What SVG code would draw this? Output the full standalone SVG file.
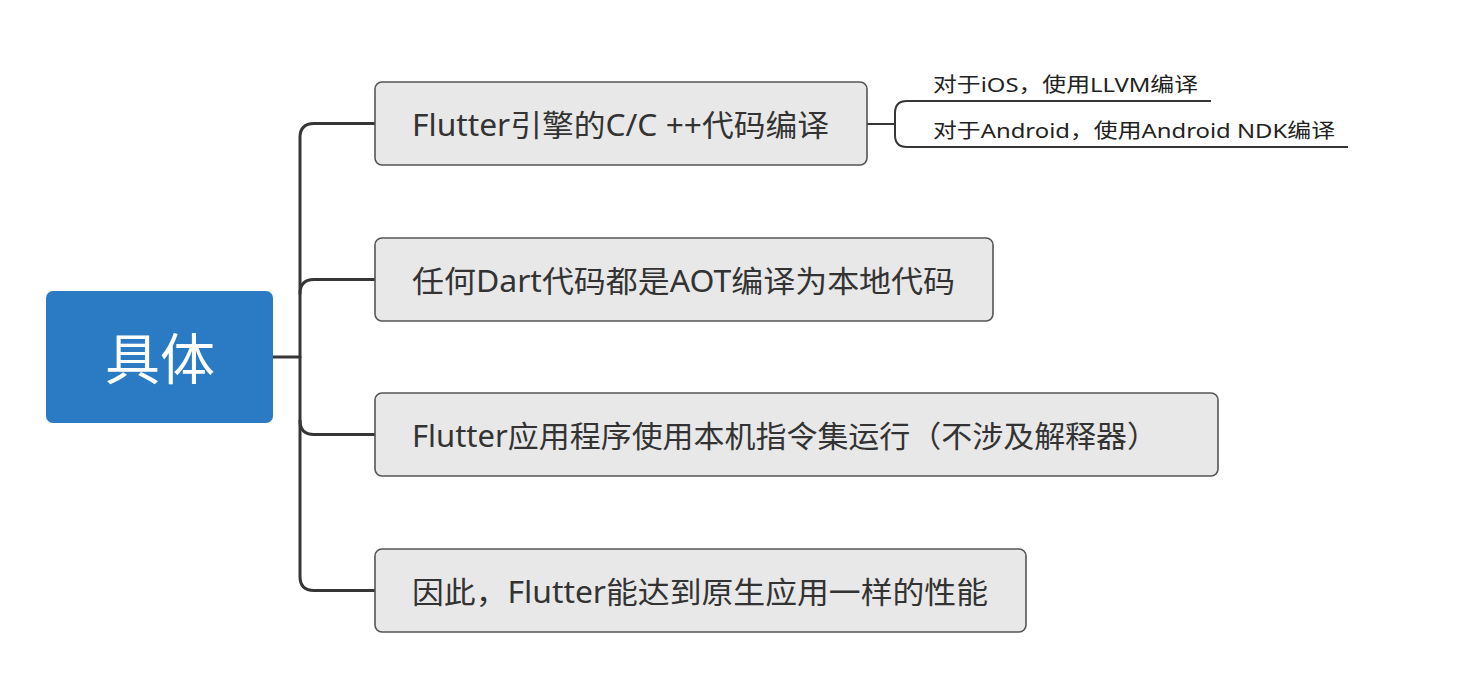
<svg xmlns="http://www.w3.org/2000/svg" width="1472" height="696" viewBox="0 0 1472 696">
<style>
.box{fill:#e8e8e8;stroke:#555;stroke-width:1.6}
.t{font-family:"Noto Sans","Noto Sans CJK SC",sans-serif;font-size:30px;fill:#333}
.s{font-family:"Noto Sans","Noto Sans CJK SC",sans-serif;font-size:20px;fill:#222}
.c{fill:none;stroke:#363636;stroke-width:3;stroke-linecap:round}
.c2{fill:none;stroke:#363636;stroke-width:2}
</style>
<rect width="1472" height="696" fill="#fff"/>
<g id="connectors">
<path class="c" d="M273 357 H300"/>
<path class="c" d="M375 123.5 H314 Q300 123.5 300 137.5 V576.5 Q300 590.5 314 590.5 H375"/>
<path class="c" d="M375 279.5 H314 Q300 279.5 300 293.5"/>
<path class="c" d="M375 434.5 H314 Q300 434.5 300 420.5"/>
<path class="c2" d="M867 124 H895"/>
<path class="c2" d="M1211 101 H907 Q895 101 895 113 V135 Q895 147 907 147 H1348"/>
</g>
<g id="root">
<rect x="46" y="291" width="227" height="132" rx="7" fill="#2b7ac4"/>
<text x="160" y="379" text-anchor="middle" font-family="Noto Sans CJK SC, sans-serif" font-size="55" fill="#fff">具体</text>
</g>
<g id="n1">
<rect class="box" x="375" y="82" width="492" height="83" rx="7"/>
<text class="t" x="412" y="136" textLength="417" lengthAdjust="spacingAndGlyphs">Flutter引擎的C/C ++代码编译</text>
</g>
<g id="n1a">
<text class="s" x="933" y="92" textLength="265" lengthAdjust="spacingAndGlyphs">对于iOS，使用LLVM编译</text>
</g>
<g id="n1b">
<text class="s" x="933" y="138" textLength="402" lengthAdjust="spacingAndGlyphs">对于Android，使用Android NDK编译</text>
</g>
<g id="n2">
<rect class="box" x="375" y="238" width="618" height="83" rx="7"/>
<text class="t" x="412" y="292" textLength="543" lengthAdjust="spacingAndGlyphs">任何Dart代码都是AOT编译为本地代码</text>
</g>
<g id="n3">
<rect class="box" x="375" y="393" width="843" height="83" rx="7"/>
<text class="t" x="412" y="447" textLength="746" lengthAdjust="spacingAndGlyphs">Flutter应用程序使用本机指令集运行（不涉及解释器）</text>
</g>
<g id="n4">
<rect class="box" x="375" y="549" width="651" height="83" rx="7"/>
<text class="t" x="412" y="603" textLength="576" lengthAdjust="spacingAndGlyphs">因此，Flutter能达到原生应用一样的性能</text>
</g>
</svg>
